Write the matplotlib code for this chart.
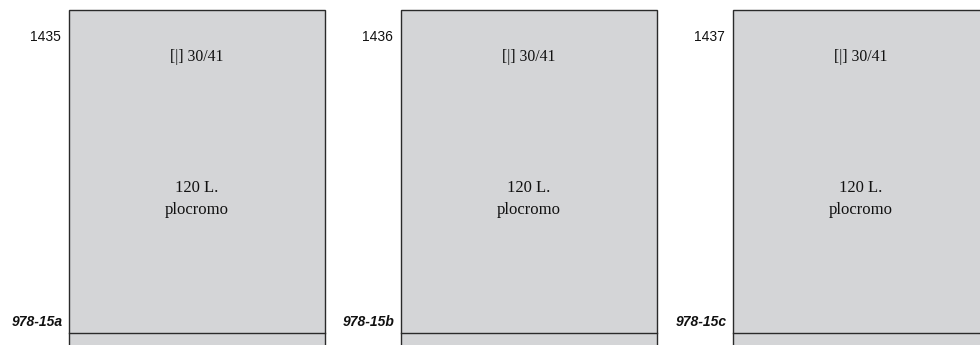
import matplotlib
matplotlib.use("Agg")
import matplotlib.pyplot as plt
from matplotlib.patches import Rectangle

numbers = ["1435", "1436", "1437"]
codes = ["978-15a", "978-15b", "978-15c"]
top_texts = ["[|] 30/41", "[|] 30/41", "[|] 30/41"]
mid_texts = ["120 L.\nplocromo", "120 L.\nplocromo", "120 L.\nplocromo"]

W, H = 980, 345
fig = plt.figure(figsize=(W / 100, H / 100), dpi=100)
ax = fig.add_axes([0, 0, 1, 1])
ax.set_xlim(0, W)
ax.set_ylim(H, 0)
ax.axis("off")

fill = "#d4d5d7"
edge = "#2a2a2a"
x0, step, pw = 69, 332, 256
ytop, yline = 10, 333

for i, (num, code, t1, t2) in enumerate(zip(numbers, codes, top_texts, mid_texts)):
    left = x0 + step * i
    ax.add_patch(Rectangle((left, ytop), pw, H + 20 - ytop, facecolor=fill,
                           edgecolor=edge, linewidth=1.0))
    ax.plot([left, left + pw], [yline, yline], color=edge, linewidth=1.0)
    ax.text(left - 8, 37, num, ha="right", va="center", fontsize=10,
            family="Liberation Sans", color="#111111")
    ax.text(left - 6, 322, code, ha="right", va="center", fontsize=10,
            family="Liberation Sans", fontweight="bold", fontstyle="italic",
            color="#111111")
    ax.text(left + pw / 2, 57, t1, ha="center", va="center", fontsize=11.3,
            family="Liberation Serif", color="#111111")
    ax.text(left + pw / 2, 199, t2, ha="center", va="center", fontsize=12,
            family="Liberation Serif", color="#111111", linespacing=1.5)

fig.savefig("out.png", dpi=100)
